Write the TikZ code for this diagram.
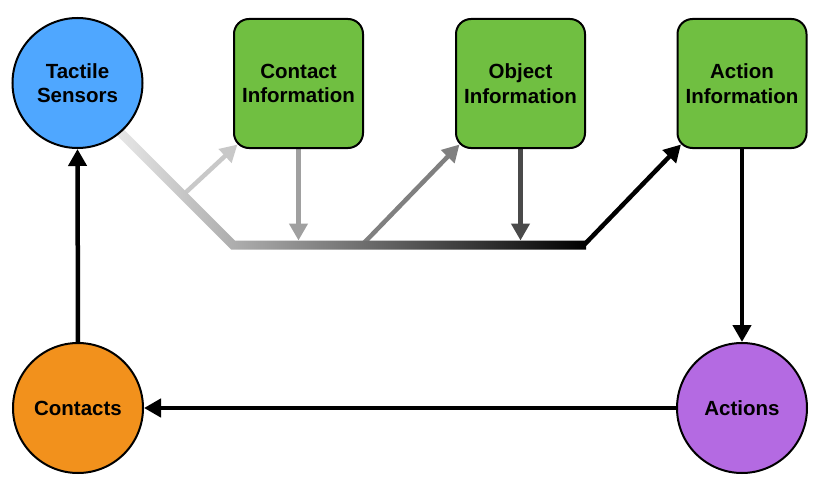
\documentclass[tikz,border=0pt]{standalone}
\usepackage{fontspec}
\setmainfont{Liberation Sans}
\usetikzlibrary{arrows.meta,calc}
\pgfdeclarelayer{bg}
\pgfsetlayers{bg,main}
\definecolor{tsblue}{RGB}{79,167,255}
\definecolor{infogreen}{RGB}{112,191,65}
\definecolor{ctorange}{RGB}{242,145,28}
\definecolor{actpurple}{RGB}{180,106,226}
\definecolor{g1}{RGB}{200,200,200}
\definecolor{g2}{RGB}{160,160,160}
\definecolor{g3}{RGB}{128,128,128}
\definecolor{g4}{RGB}{74,74,74}
\definecolor{busstart}{RGB}{232,232,232}
\begin{document}
\begin{tikzpicture}[x=1pt,y=-1pt,
  lbl/.style={font=\fontsize{20.5}{24.5}\selectfont\bfseries, align=center, text=black},
  circ/.style={circle, draw=black, line width=2pt, minimum size=130pt, inner sep=0pt, lbl},
  info/.style={rectangle, rounded corners=15pt, draw=black, line width=2pt, minimum width=129pt, minimum height=129pt, inner sep=0pt, fill=infogreen, lbl},
  conn/.style={line width=4.5pt, -{Triangle[length=17pt,width=18pt]}},
]
\useasboundingbox (0,0) rectangle (831,495);

% nodes
\node[circ, fill=tsblue] (ts) at (77.5,83) {Tactile\\Sensors};
\node[info] (ci) at (298.5,83.5) {Contact\\Information};
\node[info] (oi) at (520.5,83.5) {Object\\Information};
\node[info] (ai) at (742,83.5) {Action\\Information};
\node[circ, fill=ctorange] (ct) at (78,408) {Contacts};
\node[circ, fill=actpurple] (act) at (742,408) {Actions};

% bus branch points
\coordinate (b1) at (183,195);
\coordinate (b2) at (298.5,240.5);
\coordinate (b3) at (362,245);
\coordinate (b4) at (520.5,240.5);
\coordinate (b5) at (584,245);

\begin{pgfonlayer}{bg}
  \draw[conn, g1] (b1) -- ($(ci.south west)+(4.5,-4.5)$);
  \draw[conn, g2] (ci.south) -- (b2);
  \draw[conn, g3] (b3) -- ($(oi.south west)+(4.5,-4.5)$);
  \draw[conn, g4] (oi.south) -- (b4);
  \draw[conn, black] (b5) -- ($(ai.south west)+(4.5,-4.5)$);
  % gradient bus
  \shade[left color=busstart, right color=black]
    (121.2,126.8) -- (234.9,240.5) -- (586,240.5) -- (586,249.5)
    -- (231.1,249.5) -- (114.8,133.2) -- cycle;
\end{pgfonlayer}

% main loop
\draw[conn] (ct.north) -- (ts.south);
\draw[conn] (ai.south) -- (act.north);
\draw[conn] (act.west) -- (ct.east);
\end{tikzpicture}
\end{document}
